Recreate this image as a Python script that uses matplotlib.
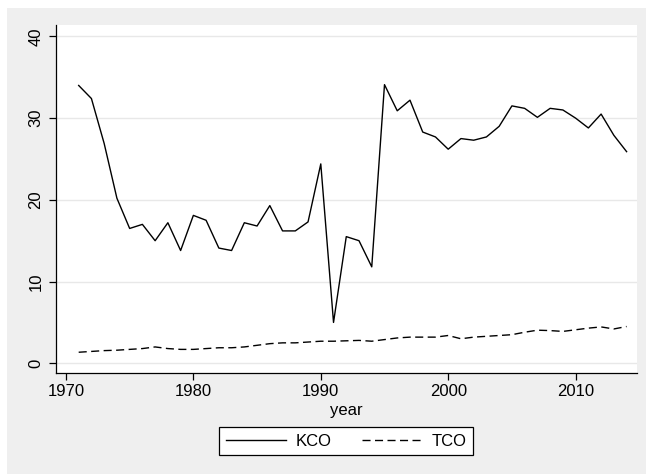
import matplotlib
matplotlib.use("Agg")
import matplotlib.pyplot as plt
from matplotlib.patches import Rectangle

years = list(range(1971, 2015))
kco = [34.0, 32.4, 26.9, 20.2, 16.5, 17.0, 15.0, 17.2, 13.8, 18.1,
       17.5, 14.1, 13.8, 17.2, 16.8, 19.3, 16.2, 16.2, 17.3, 24.4,
       5.0, 15.5, 15.0, 11.8, 34.1, 30.9, 32.2, 28.3, 27.7, 26.2,
       27.5, 27.3, 27.7, 29.0, 31.5, 31.2, 30.1, 31.2, 31.0, 30.0,
       28.8, 30.5, 27.9, 25.9]
tco = [1.35, 1.45, 1.55, 1.6, 1.7, 1.8, 2.0, 1.8, 1.7, 1.7,
       1.8, 1.9, 1.9, 2.0, 2.2, 2.4, 2.5, 2.5, 2.6, 2.7,
       2.7, 2.75, 2.8, 2.7, 2.9, 3.1, 3.2, 3.2, 3.2, 3.4,
       3.0, 3.2, 3.3, 3.4, 3.5, 3.8, 4.05, 4.0, 3.9, 4.1,
       4.3, 4.45, 4.2, 4.5]
xticks = [1970, 1980, 1990, 2000, 2010]
yticks = [0, 10, 20, 30, 40]

plt.rcParams['font.family'] = ['Liberation Sans', 'DejaVu Sans']

W, H = 646, 474
fig = plt.figure(figsize=(W / 100, H / 100), dpi=100, facecolor='white')
bg = Rectangle((7 / W, 0), 1 - 7 / W, (H - 8) / H,
               transform=fig.transFigure, facecolor='#efefef',
               edgecolor='none', zorder=-10)
fig.add_artist(bg)

ax = fig.add_axes([56 / W, 1 - 373 / H, (637.3 - 56) / W, (373 - 25) / H])
ax.set_facecolor('white')

ax.plot(years, kco, color='black', lw=1.0, label='KCO')
ax.plot(years, tco, color='black', lw=1.0, linestyle=(0, (5.8, 3.2)), label='TCO')

ax.set_xlim(1969.22, 2014.84)
ax.set_ylim(-1.19, 41.4)
ax.set_xticks(xticks)
ax.set_yticks(yticks)
ax.set_yticklabels([str(v) for v in yticks], rotation=90, va='center')
ax.grid(axis='y', color='#e8e8e8', lw=1.0)
ax.grid(axis='x', visible=False)
ax.set_axisbelow(True)

for s in ['top', 'right']:
    ax.spines[s].set_visible(False)
for s in ['left', 'bottom']:
    ax.spines[s].set_linewidth(0.9)
    ax.spines[s].set_color('black')

ax.tick_params(axis='both', length=5, width=0.9, labelsize=12, colors='black')
ax.tick_params(axis='y', pad=4)
ax.tick_params(axis='x', pad=3)
ax.set_xlabel('year', fontsize=12, labelpad=2.5)

leg = fig.legend(loc='center', bbox_to_anchor=(346 / W, 1 - 441 / H), ncol=2,
                 frameon=True, fancybox=False, fontsize=12, handlelength=3.6,
                 columnspacing=1.8, handletextpad=0.6, borderpad=0.4,
                 edgecolor='black', framealpha=1)
leg.get_frame().set_linewidth(0.9)

fig.savefig('out.png', dpi=100, facecolor=fig.get_facecolor())
